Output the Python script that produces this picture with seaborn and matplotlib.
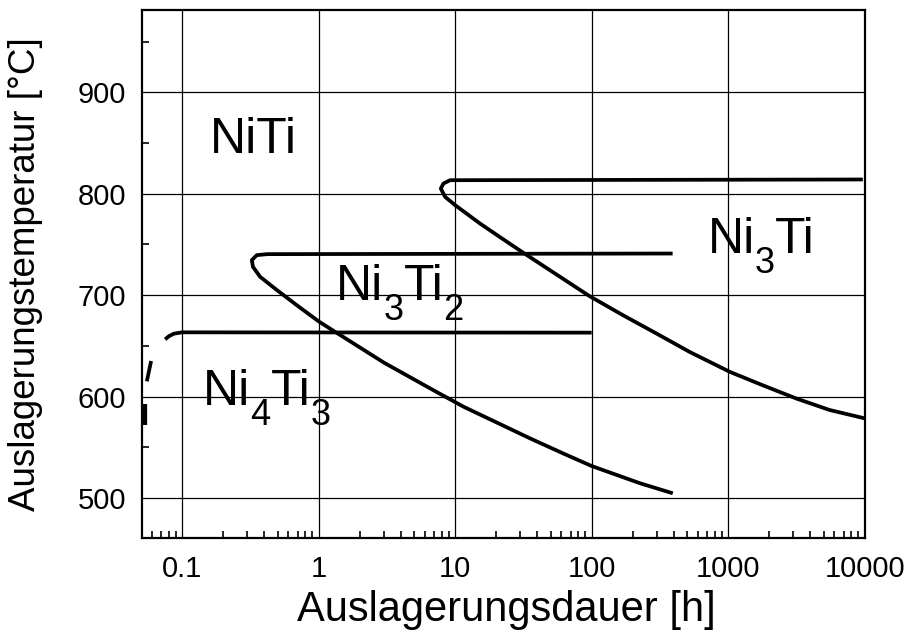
import numpy as np
import pandas as pd
import matplotlib
matplotlib.use("Agg")
import matplotlib.pyplot as plt
from matplotlib.ticker import LogLocator, FixedLocator, NullFormatter, FixedFormatter
import seaborn as sns

# ---- data ----
ni4ti3_t = [0.075, 0.080, 0.087, 0.1, 100]
ni4ti3_T = [656.4, 659.5, 662.0, 663.3, 663.0]

ni3ti2_t = [392, 0.42, 0.352, 0.324, 0.330, 0.373, 0.494, 0.692, 1.01, 1.44,
            3.0, 6.56, 11.5, 35.3, 61.6, 100, 226, 393]
ni3ti2_T = [741.0, 740.4, 739.4, 734.5, 727.9, 718.0, 705.0, 690.0, 673.7, 660.6,
            633.5, 608.0, 590.0, 558.8, 544.0, 531.5, 514.5, 504.6]

ni3ti_t = [9700, 9.18, 8.2, 7.85, 8.45, 10, 15.2, 21.4, 31.6, 96.5, 169, 297, 522,
           1026, 1800, 3165, 5550, 10000]
ni3ti_T = [814.0, 813.3, 810.0, 805.0, 796.8, 788.7, 770.6, 757.0, 741.7, 699.0, 680.3,
           662.3, 644.0, 624.4, 611.0, 598.0, 586.7, 578.5]

stroke_t = [0.0551, 0.0592]
stroke_T = [615.0, 635.0]
blob_t = [0.0525, 0.0525]
blob_T = [572.0, 593.0]

x_ticks = [0.1, 1, 10, 100, 1000, 10000]
x_ticklabels = ["0.1", "1", "10", "100", "1000", "10000"]
y_ticks = [500, 600, 700, 800, 900]
y_ticklabels = ["500", "600", "700", "800", "900"]

# phase labels: pieces of (text, is_subscript)
phase_pieces = [
    [("NiTi", False)],
    [("Ni", False), ("3", True), ("Ti", False), ("2", True)],
    [("Ni", False), ("4", True), ("Ti", False), ("3", True)],
    [("Ni", False), ("3", True), ("Ti", False)],
]
phase_x = [0.16, 1.343, 0.1426, 708]
phase_y = [840, 695.1, 591.6, 741.4]

xlabel = "Auslagerungsdauer [h]"
ylabel = "Auslagerungstemperatur [°C]"

# ---- style ----
sns.set_theme(style="white")
plt.rcParams["font.family"] = ["Liberation Sans", "DejaVu Sans"]

fig = plt.figure(figsize=(9.14, 6.32), dpi=100)
ax = fig.add_axes([0.155, 0.1487, 0.791, 0.8353])

lw = 2.7
for t, T in [(ni4ti3_t, ni4ti3_T), (ni3ti2_t, ni3ti2_T), (ni3ti_t, ni3ti_T), (stroke_t, stroke_T)]:
    df = pd.DataFrame({"t": t, "T": T})
    sns.lineplot(data=df, x="t", y="T", sort=False, estimator=None, color="black",
                 linewidth=lw, ax=ax, solid_capstyle="butt")
sns.lineplot(data=pd.DataFrame({"t": blob_t, "T": blob_T}), x="t", y="T", sort=False,
             estimator=None, color="black", linewidth=4.5, ax=ax, solid_capstyle="butt")

ax.set_xscale("log")
ax.set_xlim(0.0505, 10000)
ax.set_ylim(460.5, 981)

ax.xaxis.set_major_locator(FixedLocator(x_ticks))
ax.xaxis.set_major_formatter(FixedFormatter(x_ticklabels))
ax.xaxis.set_minor_locator(LogLocator(base=10, subs=np.arange(2, 10)))
ax.xaxis.set_minor_formatter(NullFormatter())
ax.yaxis.set_major_locator(FixedLocator(y_ticks))
ax.yaxis.set_major_formatter(FixedFormatter(y_ticklabels))
ax.yaxis.set_minor_locator(FixedLocator([450 + 100 * i for i in range(6)]))

ax.grid(True, which="major", color="black", linewidth=0.9)
ax.tick_params(axis="both", which="both", direction="in", bottom=True, left=True,
               top=False, right=False, color="black")
ax.tick_params(axis="both", which="major", length=0, labelsize=21, colors="black")
ax.tick_params(axis="x", which="major", pad=12)
ax.tick_params(axis="y", which="major", pad=11)
ax.tick_params(axis="both", which="minor", length=5, width=1.2)

for s in ax.spines.values():
    s.set_visible(True)
    s.set_color("black")
    s.set_linewidth(1.6)

ax.set_xlabel(xlabel, fontsize=30, color="black")
ax.set_ylabel(ylabel, fontsize=26.5, color="black")
ax.xaxis.set_label_coords(0.505, -0.098)
ax.yaxis.set_label_coords(-0.136, 0.5)

main_size = 36
sub_size = 26
sub_drop = 14.5  # points below the main baseline
for pieces, x, y in zip(phase_pieces, phase_x, phase_y):
    prev = None
    for txt, is_sub in pieces:
        dy = -sub_drop if is_sub else 0
        size = sub_size if is_sub else main_size
        if prev is None:
            prev = ax.annotate(txt, xy=(x, y), xycoords="data", xytext=(0, dy),
                               textcoords="offset points", fontsize=size,
                               ha="left", va="baseline", color="black")
        else:
            prev = ax.annotate(txt, xy=(1, y), xycoords=(prev, "data"), xytext=(0, dy),
                               textcoords="offset points", fontsize=size,
                               ha="left", va="baseline", color="black")

fig.savefig("out.png", dpi=100)
